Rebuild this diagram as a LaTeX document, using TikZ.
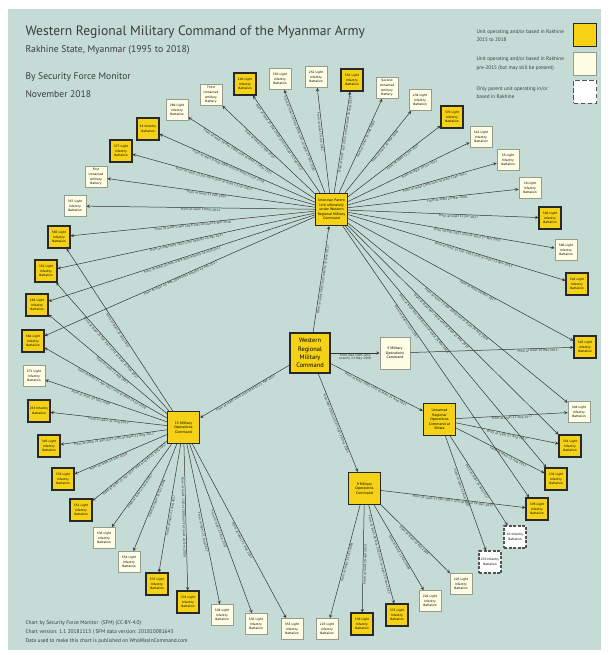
\documentclass[tikz,border=0pt]{standalone}
\usepackage{fontspec}
\setmainfont{PT Sans}
\newfontfamily\dejavu{DejaVu Sans}
\definecolor{panel}{RGB}{196,220,213}
\definecolor{unityellow}{RGB}{245,210,22}
\definecolor{unitcream}{RGB}{255,253,228}
\definecolor{creamedge}{RGB}{150,155,145}
\definecolor{unitedge}{RGB}{40,40,40}
\definecolor{inktext}{RGB}{60,60,60}
\newcommand{\boxtext}{\dejavu\fontsize{3}{4.6}\selectfont}
\newcommand{\cmdtext}{\dejavu\fontsize{3.3}{4.6}\selectfont}
\newcommand{\edgetext}{\dejavu\fontsize{3.05}{3.6}\selectfont}
\tikzset{
  yunit/.style={draw=unitedge, line width=1.1pt, fill=unityellow, minimum width=22pt, minimum height=22pt, inner sep=0pt, align=center, font=\boxtext},
  cunit/.style={draw=creamedge, line width=0.8pt, fill=unitcream, minimum width=22pt, minimum height=21pt, inner sep=0pt, align=center, font=\boxtext},
  dunit/.style={draw=unitedge!80, line width=1.1pt, dash pattern=on 3pt off 1.5pt, fill=white, minimum width=22pt, minimum height=22pt, inner sep=0pt, align=center, font=\boxtext},
  ycmd/.style={yunit, line width=1.3pt, minimum width=32pt, minimum height=32pt, font=\cmdtext},
  ccmd/.style={cunit, minimum width=30pt, minimum height=32pt, font=\cmdtext},
  link/.style={draw=black!80, line width=0.5pt, -stealth},
  lbl/.style={sloped, below, font=\edgetext, text=black!80, inner sep=0.6pt},
  uplbl/.style={lbl, pos=0.58}
}
\begin{document}
\begin{tikzpicture}[x=1pt, y=-1pt]
\useasboundingbox (0,0) rectangle (610,655);
\fill[panel] (8,9) rectangle (601,650);
\node (title)[anchor=base west, text=inktext, font=\fontsize{13.6}{16}\selectfont] at (22,36) {Western Regional Military Command of the Myanmar Army};
\node (sub)[anchor=base west, text=inktext, font=\fontsize{9.7}{11}\selectfont] at (22,53) {Rakhine State, Myanmar (1995 to 2018)};
\node (by)[anchor=base west, text=inktext, font=\fontsize{9.6}{11}\selectfont] at (22,80) {By Security Force Monitor};
\node (date)[anchor=base west, text=inktext, font=\fontsize{9.6}{11}\selectfont] at (22,98) {November 2018};
\node (lgy)[yunit, minimum width=23pt, minimum height=23pt] at (585,35) {};
\node (lgc)[cunit, minimum width=23pt, minimum height=23pt] at (585,64) {};
\node (lgd)[dunit, minimum width=23pt, minimum height=23pt, dash pattern=on 4.5pt off 2.5pt] at (585,92) {};
\node (lgytext)[anchor=west, align=left, text=inktext, font=\fontsize{5.2}{8.6}\selectfont] at (473,35.5) {Unit operating and/or based in Rakhine\\2015 to 2018};
\node (lgctext)[anchor=west, align=left, text=inktext, font=\fontsize{5.2}{8.6}\selectfont] at (473,63.5) {Unit operating and/or based in Rakhine\\pre-2015 (but may still be present)};
\node (lgdtext)[anchor=west, align=left, text=inktext, font=\fontsize{5.2}{8.6}\selectfont] at (473,92.5) {Only parent unit operating in/or\\based in Rakhine};
\node (foot1)[anchor=base west, text=inktext, font=\fontsize{5.4}{6}\selectfont] at (22,624) {Chart by Security Force Monitor ~(SFM) (CC-BY-4.0)};
\node (foot2)[anchor=base west, text=inktext, font=\fontsize{5.4}{6}\selectfont] at (22,633) {Chart version: 1.1 20181115 | SFM data version: 201810081643};
\node (foot3)[anchor=base west, text=inktext, font=\fontsize{5.4}{6}\selectfont] at (22,642) {Data used to make this chart is published on WhoWasInCommand.com};
\node (wrmc)[yunit, line width=1.5pt, minimum width=40pt, minimum height=40pt, font=\fontsize{6.4}{8.4}\selectfont] at (310,353) {Western\\Regional\\Military\\Command};
\node (up)[ycmd] at (331.5,209.5) {Unknown Parent\\Unit ultimately\\under Western\\Regional Military\\Command};
\node (moc5)[ccmd] at (395,353) {5 Military\\Operations\\Command};
\node (moc15)[ycmd] at (183.5,427.5) {15 Military\\Operations\\Command};
\node (sittwe)[ycmd] at (439.5,419.5) {Unnamed\\Regional\\Operations\\Command at\\Sittwe};
\node (moc9)[ycmd] at (364.5,488.5) {9 Military\\Operations\\Command};
\node (u357)[cunit] at (75,206) {357 Light\\Infantry\\Battalion};
\node (art1)[cunit] at (96,177) {First\\Unnamed\\Artillery\\Battery};
\node (u377)[yunit] at (121,151) {377 Light\\Infantry\\Battalion};
\node (u54)[yunit] at (148,129) {54 Infantry\\Battalion};
\node (u289)[cunit] at (177,110) {289 Light\\Infantry\\Battalion};
\node (art3)[cunit] at (211,95) {Third\\Unnamed\\Artillery\\Battery};
\node (u140)[yunit] at (245,84) {140 Light\\Infantry\\Battalion};
\node (u550)[cunit] at (280,79) {550 Light\\Infantry\\Battalion};
\node (u252)[cunit] at (316,77) {252 Light\\Infantry\\Battalion};
\node (u552)[yunit] at (352,80) {552 Light\\Infantry\\Battalion};
\node (art2)[cunit] at (387,88) {Second\\Unnamed\\Artillery\\Battery};
\node (u234)[cunit] at (420,100) {234 Light\\Infantry\\Battalion};
\node (u376)[yunit] at (452,117) {376 Light\\Infantry\\Battalion};
\node (u541)[cunit] at (481,137) {541 Light\\Infantry\\Battalion};
\node (u55)[cunit] at (508,160) {55 Light\\Infantry\\Battalion};
\node (u20)[cunit] at (530,188) {20 Light\\Infantry\\Battalion};
\node (u590)[yunit] at (550,218) {590 Light\\Infantry\\Battalion};
\node (u580)[cunit] at (566,250) {580 Light\\Infantry\\Battalion};
\node (u542)[yunit] at (577,284) {542 Light\\Infantry\\Battalion};
\node (u545)[yunit] at (585,347) {545 Light\\Infantry\\Battalion};
\node (u344)[cunit] at (579,412) {344 Light\\Infantry\\Battalion};
\node (u354)[yunit] at (570,446) {354 Light\\Infantry\\Battalion};
\node (u232)[yunit] at (556,479) {232 Light\\Infantry\\Battalion};
\node (u378)[yunit] at (537,509) {378 Light\\Infantry\\Battalion};
\node (u30)[dunit] at (515,537) {30 Infantry\\Battalion};
\node (u270)[dunit] at (490,562) {270 Infantry\\Battalion};
\node (u226)[cunit] at (461,584) {226 Light\\Infantry\\Battalion};
\node (u224)[cunit] at (430,601) {224 Light\\Infantry\\Battalion};
\node (u375)[yunit] at (397,615) {375 Light\\Infantry\\Battalion};
\node (u539)[yunit] at (362,624) {539 Light\\Infantry\\Battalion};
\node (u223)[cunit] at (327,629) {223 Light\\Infantry\\Battalion};
\node (u353)[cunit] at (292,629) {353 Light\\Infantry\\Battalion};
\node (u535)[cunit] at (256,624) {535 Light\\Infantry\\Battalion};
\node (u538)[cunit] at (222,615) {538 Light\\Infantry\\Battalion};
\node (u374)[yunit] at (188,602) {374 Light\\Infantry\\Battalion};
\node (u537)[yunit] at (157,584) {537 Light\\Infantry\\Battalion};
\node (u554)[cunit] at (129,562) {554 Light\\Infantry\\Battalion};
\node (u536)[cunit] at (104,538) {536 Light\\Infantry\\Battalion};
\node (u551)[yunit] at (81,510) {551 Light\\Infantry\\Battalion};
\node (u379)[yunit] at (63,479) {379 Light\\Infantry\\Battalion};
\node (u345)[yunit] at (49,446) {345 Light\\Infantry\\Battalion};
\node (u233)[yunit] at (39,411) {233 Infantry\\Battalion};
\node (u571)[cunit] at (34,376) {571 Light\\Infantry\\Battalion};
\node (u564)[yunit] at (33,341) {564 Light\\Infantry\\Battalion};
\node (u263)[yunit] at (37,305) {263 Light\\Infantry\\Battalion};
\node (u352)[yunit] at (46,271) {352 Light\\Infantry\\Battalion};
\node (u565)[yunit] at (59,237) {565 Light\\Infantry\\Battalion};
\draw[link] (wrmc) -- node[lbl] {From at least 1995 until exactly 21 Nov 2017} (up);
\draw[link] (wrmc) -- node[lbl, align=center] {From Mar 1995 until\\exactly 13 May 2009} (moc5);
\draw[link] (wrmc) -- node[lbl] {From at least 2001 until exactly 21 Apr 2017} (moc15);
\draw[link] (wrmc) -- node[lbl] {From at least 2001 until at least 21 Aug 2017} (sittwe);
\draw[link] (wrmc) -- node[lbl] {From Mar 1995 until at least 29 Dec 2015} (moc9);
\draw[link] (moc5) -- node[lbl, pos=0.78] {From at least 10 Mar 2015} (u545);
\draw[link] (up) -- node[uplbl, pos=0.5] {From at least 10 Jun 2012} (u357);
\draw[link] (up) -- node[uplbl, pos=0.52] {From at least 13 Feb 2010} (art1);
\draw[link] (up) -- node[uplbl, pos=0.55] {From at least 13 Jun 2013 until at least 13 Jun 2017} (u377);
\draw[link] (up) -- node[uplbl, pos=0.55] {From at least 8 Aug 2008 until at least 21 Jun 2016} (u54);
\draw[link] (up) -- node[uplbl, pos=0.6] {From at least 20 Mar 2009 until at least 17 Mar 2011} (u289);
\draw[link] (up) -- node[uplbl] {From at least 13 Feb 2010} (art3);
\draw[link] (up) -- node[uplbl] {From at least 27 Dec 2010 until at least 21 Feb 2017} (u140);
\draw[link] (up) -- node[uplbl] {From at least 16 Sep 2008 until at least 27 Feb 2010} (u550);
\draw[link] (up) -- node[uplbl] {From at least 14 Jun 2011} (u252);
\draw[link] (up) -- node[uplbl] {From at least 1 Jul 2015 until at least 25 Aug 2017} (u552);
\draw[link] (up) -- node[uplbl] {From at least 13 Feb 2010} (art2);
\draw[link] (up) -- node[uplbl] {From at least 20 Mar 2009} (u234);
\draw[link] (up) -- node[uplbl] {From at least 11 Jun 2017} (u376);
\draw[link] (up) -- node[uplbl] {From at least 14 Jun 2011} (u541);
\draw[link] (up) -- node[uplbl] {From at least 1990 until at least 3 Jan 2011} (u55);
\draw[link] (up) -- node[uplbl] {From at least 20 Mar 2009} (u20);
\draw[link] (up) -- node[uplbl] {From at least 11 Jun 2017} (u590);
\draw[link] (up) -- node[uplbl] {From 28 Feb 2011 until at least 17 Mar 2011} (u580);
\draw[link] (up) -- node[uplbl] {From at least 12 Dec 2012 until at least 21 Nov 2017} (u542);
\draw[link] (up) -- node[uplbl] {From at least 20 Nov 2017} (u545);
\draw[link] (up) -- node[uplbl, pos=0.5] {From at least 20 Mar 2009 until at least 26 Aug 2014} (u344);
\draw[link] (up) -- node[uplbl, pos=0.45] {From at least Nov 2010 until at least 21 Mar 2015} (u354);
\draw[link] (up) -- node[uplbl, pos=0.4] {From at least Nov 2010 until at least 21 Mar 2016} (u232);
\draw[link] (up) -- node[uplbl, pos=0.35] {From at least 11 Jun 2017} (u378);
\draw[link] (up) -- node[uplbl, pos=0.5] {From at least 5 Mar 2016 until at least 4 Mar 2016} (u565);
\draw[link] (up) -- node[uplbl, pos=0.5] {From at least Nov 2012 until exactly 24 Apr 2017} (u352);
\draw[link] (up) -- node[uplbl, pos=0.5] {From at least 20 Mar 2009 until exactly 24 Aug 2017} (u263);
\draw[link] (up) -- node[uplbl, pos=0.5] {From at least 20 Mar 2009 until exactly 24 Apr 2017} (u564);
\draw[link] (moc15) -- node[lbl] {From at least 21 Aug 2017} (u565);
\draw[link] (moc15) -- node[lbl] {From at least 21 Apr 2017 until at least 21 Aug 2017} (u352);
\draw[link] (moc15) -- node[lbl, pos=0.45] {From at least 21 Aug 2017} (u263);
\draw[link] (moc15) -- node[lbl, pos=0.44] {From at least 21 Apr 2017 until at least 24 Jul 2018} (u564);
\draw[link] (moc15) -- node[lbl, pos=0.62] {From at least 24 Dec 2009} (u571);
\draw[link] (moc15) -- node[lbl] {From at least 21 Aug 2017} (u233);
\draw[link] (moc15) -- node[lbl] {From at least 21 Apr 2017 until at least 21 Aug 2017} (u345);
\draw[link] (moc15) -- node[lbl, pos=0.64] {From at least 24 Dec 2009} (u379);
\draw[link] (moc15) -- node[lbl, pos=0.45] {From at least 21 Apr 2017 until at least 21 Aug 2017} (u551);
\draw[link] (moc15) -- node[lbl, pos=0.55] {From at least 21 Aug 2017} (u536);
\draw[link] (moc15) -- node[lbl] {From at least 13 Oct 2009} (u554);
\draw[link] (moc15) -- node[lbl, pos=0.55] {From at least 21 Aug 2017} (u537);
\draw[link] (moc15) -- node[lbl] {From at least 13 Oct 2009 until at least 24 Dec 2009} (u374);
\draw[link] (moc15) -- node[lbl, pos=0.55] {From at least 21 Aug 2017} (u538);
\draw[link] (moc15) -- node[lbl] {From at least 21 Aug 2017} (u535);
\draw[link] (moc15) -- node[lbl, pos=0.55] {From at least 21 Aug 2017} (u353);
\draw[link] (sittwe) -- node[lbl] {From at least 21 Aug 2017} (u344);
\draw[link] (sittwe) -- node[lbl] {From at least 21 Aug 2017} (u354);
\draw[link] (sittwe) -- node[lbl, pos=0.6] {From at least 21 Aug 2017} (u232);
\draw[link] (sittwe) -- node[lbl] {From at least 21 Aug 2017} (u30);
\draw[link] (sittwe) -- node[lbl, pos=0.45] {From at least 21 Aug 2017} (u270);
\draw[link] (moc9) -- node[lbl] {From at least 27 Dec 2015 until at least 29 Dec 2015} (u378);
\draw[link] (moc9) -- node[lbl] {From at least 13 Oct 2009} (u226);
\draw[link] (moc9) -- node[lbl, pos=0.55] {From at least 13 Oct 2009} (u224);
\draw[link] (moc9) -- node[lbl] {From at least 18 Nov 2012 until at least 20 Dec 2015} (u375);
\draw[link] (moc9) -- node[lbl, pos=0.55] {From at least 18 Apr 2013} (u539);
\draw[link] (moc9) -- node[lbl] {From at least 13 Oct 2009} (u223);
\end{tikzpicture}
\end{document}
